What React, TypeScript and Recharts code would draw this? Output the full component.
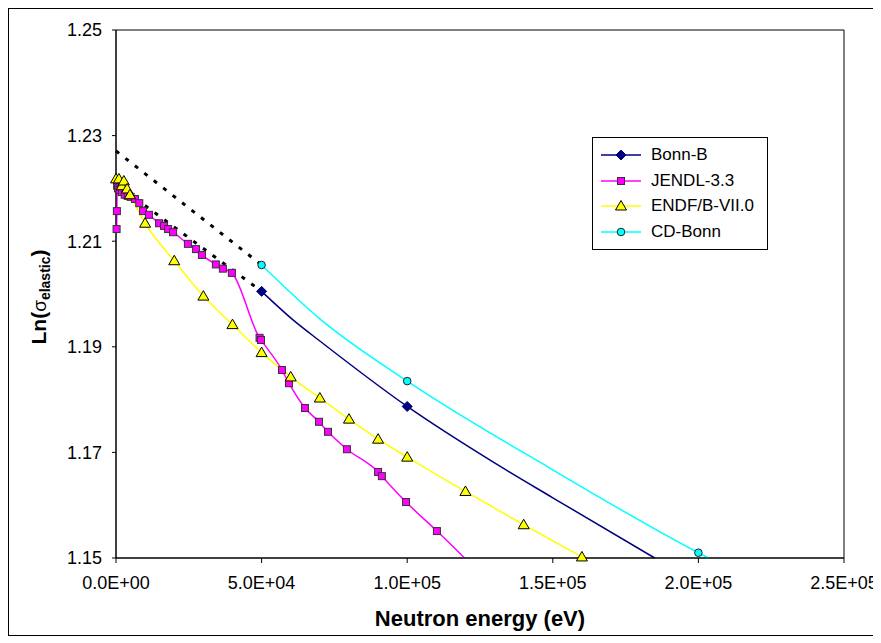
import React from 'react';
import { LineChart, Line, XAxis, YAxis, ReferenceArea } from 'recharts';

// energies (eV) and Ln(sigma elastic) values
const bonnE = [50000, 61000, 70000, 100000, 130000, 150000, 185000];
const bonnV = [1.2005, 1.195, 1.1911, 1.1787, 1.168, 1.1614, 1.15];
const bonnMarked = [50000, 100000];

const jendlE = [
  200, 300, 400, 700, 1200, 2000, 3000, 4000, 5000, 6500, 8000, 9300, 11300, 14800, 16500, 17900,
  19600, 24700, 27500, 29500, 34300, 36700, 39800, 49300, 49800, 57000, 59400, 64900, 69700, 72800,
  79300, 90000, 91300, 99600, 110200, 119700,
];
const jendlV = [
  1.2123, 1.2157, 1.2205, 1.22, 1.2197, 1.2193, 1.2188, 1.2186, 1.2184, 1.218, 1.2172, 1.2157, 1.215,
  1.2134, 1.2129, 1.2123, 1.2117, 1.2095, 1.2085, 1.2074, 1.2056, 1.2048, 1.204, 1.1917, 1.1913, 1.1856,
  1.1831, 1.1784, 1.1758, 1.1739, 1.1706, 1.1663, 1.1655, 1.1606, 1.1551, 1.15,
];
const jendlUnmarked = [119700];

const endfE = [
  0, 1000, 2000, 2700, 3800, 4800, 10000, 20000, 30000, 40000, 50000, 60000, 70000, 80000, 90000,
  100000, 120000, 140000, 160000,
];
const endfV = [
  1.2218, 1.2218, 1.2205, 1.2214, 1.2199, 1.2188, 1.2134, 1.2063, 1.1996, 1.1942, 1.1889, 1.1843,
  1.1803, 1.1763, 1.1725, 1.1691, 1.1626, 1.1563, 1.1502,
];

const cdE = [50000, 70000, 100000, 150000, 200000, 203500];
const cdV = [1.2055, 1.1953, 1.1835, 1.1667, 1.151, 1.15];
const cdMarked = [50000, 100000, 200000];

// dotted extrapolations towards zero energy
const extrapE = [0, 50000];
const extrapUpperV = [1.2271, 1.2055];
const extrapLowerV = [1.2208, 1.2005];

const xTicks = [0, 50000, 100000, 150000, 200000, 250000];
const yTicks = [1.15, 1.17, 1.19, 1.21, 1.23, 1.25];

const FONT = 'Arial, "Liberation Sans", sans-serif';

const toPoints = (e: number[], v: number[]) => e.map((x, i) => ({ e: x, v: v[i] }));

const fmtSci = (t: number) => {
  if (t === 0) return '0.0E+00';
  const exp = Math.floor(Math.log10(t));
  const m = t / Math.pow(10, exp);
  return `${m.toFixed(1)}E+${String(exp).padStart(2, '0')}`;
};

const Diamond = ({ cx, cy }: any) => (
  <polygon points={`${cx},${cy - 5} ${cx + 5},${cy} ${cx},${cy + 5} ${cx - 5},${cy}`} fill="#000080" stroke="#000080" />
);
const Square = ({ cx, cy }: any) => (
  <rect x={cx - 3.5} y={cy - 3.5} width={7} height={7} fill="#FF00FF" stroke="#333" strokeWidth={1} />
);
const Triangle = ({ cx, cy }: any) => (
  <polygon points={`${cx},${cy - 5.5} ${cx + 5.5},${cy + 4} ${cx - 5.5},${cy + 4}`} fill="#FFFF00" stroke="#000" strokeWidth={1} />
);
const Circle = ({ cx, cy }: any) => <circle cx={cx} cy={cy} r={3.8} fill="#00FFFF" stroke="#222" strokeWidth={1} />;

const makeDot = (Shape: any, keep: (e: number) => boolean) => (props: any) => {
  const { cx, cy, payload, index } = props;
  if (cx == null || cy == null || !keep(payload.e)) return <g key={`d-${index}`} />;
  return (
    <g key={`d-${index}`}>
      <Shape cx={cx} cy={cy} />
    </g>
  );
};

const legendItems = [
  { name: 'Bonn-B', color: '#000080', Shape: Diamond },
  { name: 'JENDL-3.3', color: '#FF00FF', Shape: Square },
  { name: 'ENDF/B-VII.0', color: '#FFFF00', Shape: Triangle },
  { name: 'CD-Bonn', color: '#00FFFF', Shape: Circle },
];

const LegendBox = () => (
  <div
    style={{
      position: 'absolute',
      left: 583,
      top: 128,
      border: '1px solid #000',
      background: '#fff',
      width: 174,
      padding: '4px 0',
      fontFamily: FONT,
      fontSize: 17,
    }}
  >
    {legendItems.map((it) => (
      <div key={it.name} style={{ display: 'flex', alignItems: 'center', height: 25.7 }}>
        <svg width={50} height={12} style={{ marginLeft: 8 }}>
          <line x1={0} y1={6} x2={40} y2={6} stroke={it.color} strokeWidth={1.5} />
          <it.Shape cx={20} cy={6} />
        </svg>
        <span style={{ color: '#000' }}>{it.name}</span>
      </div>
    ))}
  </div>
);

const YLabel = () => (
  <text
    x={37}
    y={288}
    transform="rotate(-90, 37, 288)"
    textAnchor="middle"
    fontFamily={FONT}
    fontWeight="bold"
    fontSize={21}
    fill="#000"
  >
    Ln(
    <tspan fontWeight="normal" fontSize={19}>σ</tspan>
    <tspan fontSize={14} dy={4}>elastic</tspan>
    <tspan dy={-4}>)</tspan>
  </text>
);

export default function App() {
  return (
    <div style={{ width: 871, height: 626, border: '1px solid #000', position: 'relative', background: '#fff' }}>
      <LineChart width={871} height={626} margin={{ top: 21, right: 36, left: 0, bottom: 0 }}>
        <XAxis
          dataKey="e"
          type="number"
          domain={[0, 250000]}
          ticks={xTicks}
          tickFormatter={fmtSci}
          height={77}
          stroke="#000"
          tickSize={5}
          tickMargin={13}
          tick={{ fill: '#000', fontSize: 18, fontFamily: FONT }}
          label={{
            value: 'Neutron energy (eV)',
            position: 'insideBottom',
            offset: 9,
            style: { fontWeight: 'bold', fontSize: 22, fill: '#000', fontFamily: FONT },
          }}
        />
        <YAxis
          type="number"
          domain={[1.15, 1.25]}
          ticks={yTicks}
          tickFormatter={(t: number) => t.toFixed(2)}
          width={107}
          stroke="#000"
          tickSize={4}
          tickMargin={10}
          tick={{ fill: '#000', fontSize: 18, fontFamily: FONT }}
          label={{ content: () => <YLabel /> }}
        />
        <ReferenceArea x1={0} x2={250000} y1={1.15} y2={1.25} fill="none" stroke="#000" strokeWidth={1} />
        <Line
          data={toPoints(extrapE, extrapUpperV)}
          dataKey="v"
          type="linear"
          stroke="#000"
          strokeWidth={3}
          strokeDasharray="4 8"
          dot={false}
          isAnimationActive={false}
          legendType="none"
        />
        <Line
          data={toPoints(extrapE, extrapLowerV)}
          dataKey="v"
          type="linear"
          stroke="#000"
          strokeWidth={3}
          strokeDasharray="4 8"
          dot={false}
          isAnimationActive={false}
          legendType="none"
        />
        <Line
          name="Bonn-B"
          data={toPoints(bonnE, bonnV)}
          dataKey="v"
          type="monotone"
          stroke="#000080"
          strokeWidth={1.5}
          dot={makeDot(Diamond, (e) => bonnMarked.includes(e))}
          activeDot={false}
          isAnimationActive={false}
        />
        <Line
          name="JENDL-3.3"
          data={toPoints(jendlE, jendlV)}
          dataKey="v"
          type="monotone"
          stroke="#FF00FF"
          strokeWidth={1.5}
          dot={makeDot(Square, (e) => !jendlUnmarked.includes(e))}
          activeDot={false}
          isAnimationActive={false}
        />
        <Line
          name="ENDF/B-VII.0"
          data={toPoints(endfE, endfV)}
          dataKey="v"
          type="monotone"
          stroke="#FFFF00"
          strokeWidth={1.5}
          dot={makeDot(Triangle, () => true)}
          activeDot={false}
          isAnimationActive={false}
        />
        <Line
          name="CD-Bonn"
          data={toPoints(cdE, cdV)}
          dataKey="v"
          type="monotone"
          stroke="#00FFFF"
          strokeWidth={1.5}
          dot={makeDot(Circle, (e) => cdMarked.includes(e))}
          activeDot={false}
          isAnimationActive={false}
        />
      </LineChart>
      <LegendBox />
    </div>
  );
}
